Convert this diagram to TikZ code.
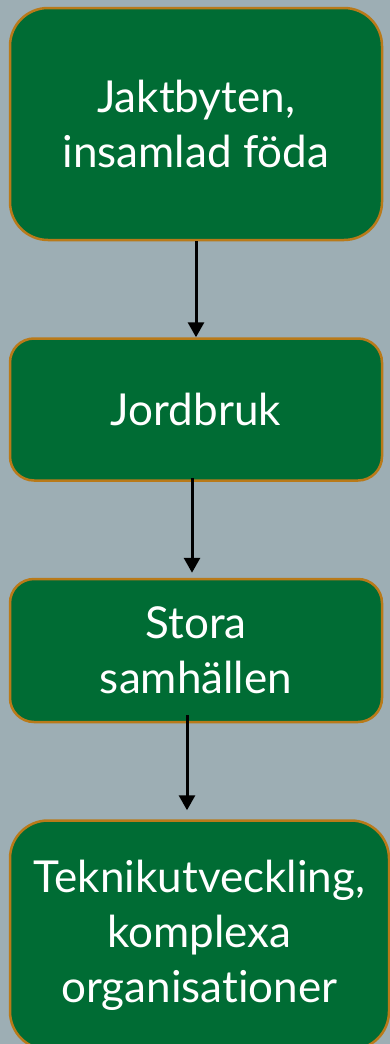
\documentclass[tikz,border=0pt]{standalone}
\usepackage{fontspec}
\setmainfont{Lato}[Ligatures=NoCommon]
\usetikzlibrary{shapes.geometric, arrows.meta, calc, positioning}
\definecolor{bgblue}{RGB}{157,174,180}
\definecolor{boxgreen}{RGB}{0,108,52}
\definecolor{boxedge}{RGB}{185,122,25}
\tikzstyle{stage} = [rectangle, rounded corners=24pt, minimum width=372pt, minimum height=142pt, align=center, draw=boxedge, line width=2.5pt, fill=boxgreen, text=white, font=\fontsize{44}{55}\selectfont]
\tikzstyle{bigstage} = [stage, rounded corners=38pt, minimum height=232pt]
\tikzstyle{arrow} = [line width=3pt, -{Triangle[width=16pt,length=15pt]}]

\begin{document}
\begin{tikzpicture}[node distance=96pt]
    \fill[bgblue] (0,0) rectangle (390pt,-1044pt);
    \useasboundingbox (0,0) rectangle (390pt,-1044pt);
    \node (jakt) [bigstage] at (196pt,-124pt) {Jaktbyten,\\insamlad föda};
    \node (jord) [stage, below=of jakt] {Jordbruk};
    \node (stora) [stage, minimum height=143pt, below=of jord] {Stora\\samhällen};
    \node (teknik) [bigstage, minimum width=379pt, minimum height=229pt, below=of stora, xshift=3.5pt] {Teknikutveckling,\\komplexa\\organisationer};

    \draw [arrow] (jakt) -- (jord);
    \draw [arrow] ([xshift=-4pt,yshift=4pt]jord.south) -- ([xshift=-4pt,yshift=5pt]stora.north);
    \draw [arrow] ([xshift=-9pt,yshift=8pt]stora.south) -- ([xshift=-12.5pt,yshift=9pt]teknik.north); % teknik is shifted right
\end{tikzpicture}
\end{document}
